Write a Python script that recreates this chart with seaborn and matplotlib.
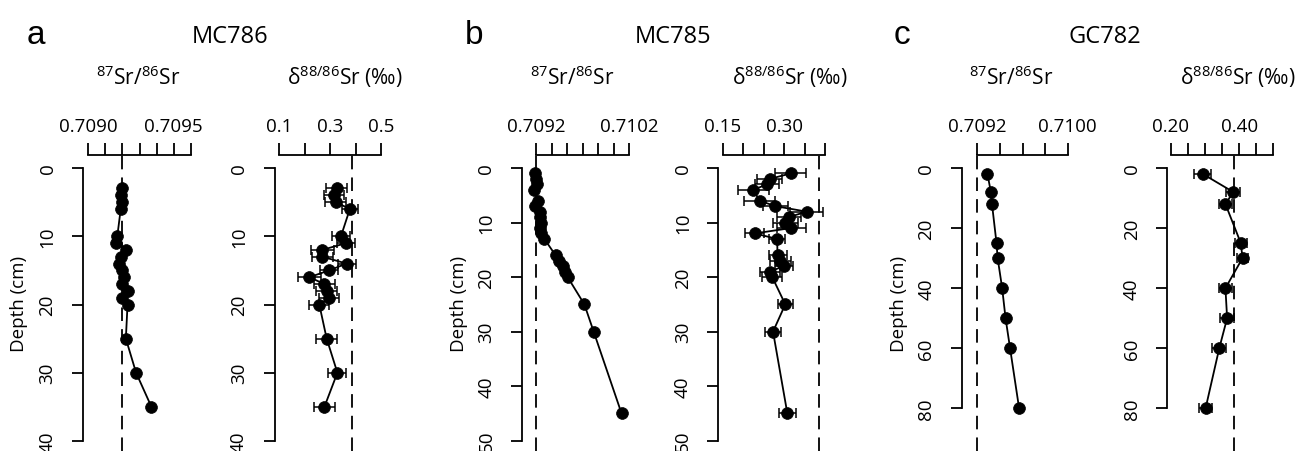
import matplotlib
matplotlib.use("Agg")
import matplotlib.pyplot as plt
import seaborn as sns
import numpy as np

# ---------------- data ----------------
# MC786
a_depth = [3, 4, 5, 6, 10, 11, 12, 13, 14, 15, 16, 17, 18, 19, 20, 25, 30, 35]
a_sr = [0.70920, 0.70919, 0.70920, 0.70919, 0.70917, 0.70916, 0.70922, 0.70919, 0.70918,
        0.70920, 0.70921, 0.70920, 0.70923, 0.70920, 0.70923, 0.70922, 0.70928, 0.70937]
a_d88 = [0.326, 0.316, 0.322, 0.378, 0.343, 0.363, 0.270, 0.270, 0.365, 0.297, 0.219,
         0.278, 0.287, 0.297, 0.258, 0.287, 0.329, 0.278]
a_err = [0.040, 0.040, 0.040, 0.030, 0.035, 0.035, 0.044, 0.040, 0.035, 0.035, 0.044,
         0.040, 0.040, 0.040, 0.040, 0.040, 0.035, 0.040]

# MC785
b_depth = [1, 2, 3, 4, 6, 7, 8, 9, 10, 11, 12, 13, 16, 17, 18, 19, 20, 25, 30, 45]
b_sr = [0.70919, 0.70920, 0.70921, 0.70918, 0.70922, 0.70919, 0.70924, 0.70924, 0.70925,
        0.70924, 0.70925, 0.70929, 0.70941, 0.70945, 0.70949, 0.70951, 0.70954, 0.70972,
        0.70982, 0.71012]
b_d88 = [0.316, 0.265, 0.258, 0.225, 0.240, 0.279, 0.355, 0.312, 0.303, 0.318, 0.228,
         0.283, 0.284, 0.291, 0.299, 0.265, 0.271, 0.303, 0.273, 0.308]
b_err = [0.038, 0.030, 0.030, 0.038, 0.038, 0.030, 0.040, 0.030, 0.030, 0.035, 0.023,
         0.020, 0.022, 0.025, 0.022, 0.025, 0.025, 0.018, 0.020, 0.020]

# GC782
c_depth = [2, 8, 12, 25, 30, 40, 50, 60, 80]
c_sr = [0.70929, 0.70932, 0.70933, 0.70937, 0.70938, 0.70942, 0.70945, 0.70949, 0.70957]
c_d88 = [0.294, 0.383, 0.360, 0.405, 0.410, 0.360, 0.365, 0.342, 0.302]
c_err = [0.025, 0.020, 0.020, 0.017, 0.017, 0.020, 0.020, 0.020, 0.020]

# seawater reference values (dashed lines)
sr_seawater = 0.7092
d88_seawater = 0.386

# tick values / labels
a_sr_ticks = [0.7090, 0.7091, 0.7092, 0.7093, 0.7094, 0.7095, 0.7096]
a_sr_labels = ["0.7090", "", "", "", "", "0.7095", ""]
a_d_ticks = [0.1, 0.2, 0.3, 0.4, 0.5]
a_d_labels = ["0.1", "", "0.3", "", "0.5"]
b_sr_ticks = list(np.linspace(0.7092, 0.7102, 7))
b_sr_labels = ["0.7092", "", "", "", "", "", "0.7102"]
b_d_ticks = [0.15, 0.20, 0.25, 0.30, 0.35, 0.40]
b_d_labels = ["0.15", "", "", "0.30", "", ""]
c_sr_ticks = [0.7092, 0.7094, 0.7096, 0.7098, 0.7100]
c_sr_labels = ["0.7092", "", "", "", "0.7100"]
c_d_ticks = [0.20, 0.25, 0.30, 0.35, 0.40, 0.45, 0.50]
c_d_labels = ["0.20", "", "", "", "0.40", "", ""]

a_yticks = [0, 10, 20, 30, 40]
b_yticks = [0, 10, 20, 30, 40, 50]
c_yticks = [0, 20, 40, 60, 80]

cores = ["MC786", "MC785", "GC782"]
letters = ["a", "b", "c"]

# ---------------- style ----------------
sns.set_style("ticks", rc={"axes.edgecolor": "black", "xtick.color": "black",
                           "ytick.color": "black", "text.color": "black"})
plt.rcParams["font.family"] = ["Open Sans", "DejaVu Sans"]
plt.rcParams["mathtext.fontset"] = "custom"
plt.rcParams["mathtext.rm"] = "Open Sans"
plt.rcParams["mathtext.it"] = "Open Sans:italic"
plt.rcParams["mathtext.bf"] = "Open Sans:bold"

W, H = 1300, 452
fig = plt.figure(figsize=(W / 100, H / 100), dpi=100)

AX_TOP, AX_BOT, DEPTH0 = 156, 452, 169
LW = 1.3

sr_title = r"$\mathregular{^{87}}$Sr/$\mathregular{^{86}}$Sr"
d_title = r"δ$\mathregular{^{88/86}}$Sr (‰)"


def make_panel(spine_px, p0, p1, ticks, labels, ypx_per_unit, x, depth, err, sw, yticks,
               title, title_x):
    right_px = p1 + 4
    ax = fig.add_axes([spine_px / W, 1 - AX_BOT / H, (right_px - spine_px) / W, (AX_BOT - AX_TOP) / H])
    k = (ticks[-1] - ticks[0]) / (p1 - p0)
    ax.set_xlim(ticks[0] - (p0 - spine_px) * k, ticks[-1] + 4 * k)
    ax.set_ylim((AX_BOT - DEPTH0) / ypx_per_unit, -(DEPTH0 - AX_TOP) / ypx_per_unit)

    ax.axvline(sw, color="black", lw=LW, ls=(0, (7.5, 4.5)), zorder=1)
    if err is not None:
        ax.errorbar(x, depth, xerr=err, fmt="none", ecolor="black", elinewidth=1.1,
                    capsize=3.8, capthick=1.1, zorder=2)
    sns.lineplot(x=x, y=depth, sort=False, estimator=None, errorbar=None, ax=ax,
                 color="black", lw=LW, marker="o", markersize=8.5,
                 markeredgecolor="black", markeredgewidth=0.5, zorder=3)
    ax.set_xlabel("")
    ax.set_ylabel("")

    ax.xaxis.tick_top()
    ax.set_xticks(ticks)
    ax.set_xticklabels(labels)
    ax.set_yticks(yticks)
    ax.set_yticklabels([str(t) for t in yticks], rotation=90, va="center")
    ax.tick_params(axis="x", direction="out", length=8.5, width=LW, pad=6, labelsize=13.5,
                   top=True, bottom=False, labeltop=True, labelbottom=False)
    ax.tick_params(axis="y", direction="out", length=8, width=LW, pad=11, labelsize=13.5)
    for s in ["right", "bottom"]:
        ax.spines[s].set_visible(False)
    ax.spines["top"].set_linewidth(LW)
    ax.spines["left"].set_linewidth(LW)
    ax.spines["top"].set_bounds(ticks[0], ticks[-1])
    ax.spines["left"].set_bounds(yticks[0], yticks[-1])
    ax.patch.set_alpha(0)

    fig.text(title_x / W, 1 - 85 / H, title, fontsize=15, ha="center", va="baseline")
    return ax


a_ppu = (442 - DEPTH0) / 40
b_ppu = (441.7 - DEPTH0) / 50
c_ppu = (409.3 - DEPTH0) / 80

make_panel(83, 88.3, 190.7, a_sr_ticks, a_sr_labels, a_ppu, a_sr, a_depth, None, sr_seawater,
           a_yticks, sr_title, 138)
make_panel(274.5, 279, 381, a_d_ticks, a_d_labels, a_ppu, a_d88, a_depth, a_err, d88_seawater,
           a_yticks, d_title, 345)
make_panel(521.7, 536, 629, b_sr_ticks, b_sr_labels, b_ppu, b_sr, b_depth, None, sr_seawater,
           b_yticks, sr_title, 572)
make_panel(718.3, 722.7, 825, b_d_ticks, b_d_labels, b_ppu, b_d88, b_depth, b_err, d88_seawater,
           b_yticks, d_title, 790)
make_panel(961.7, 977.3, 1067.7, c_sr_ticks, c_sr_labels, c_ppu, c_sr, c_depth, None, sr_seawater,
           c_yticks, sr_title, 1011)
make_panel(1167.3, 1170.7, 1273.3, c_d_ticks, c_d_labels, c_ppu, c_d88, c_depth, c_err, d88_seawater,
           c_yticks, d_title, 1238)

# panel letters, core names, depth labels
letter_x = [36, 474, 902]
core_x = [230, 673, 1105]
depth_x = [19, 459, 899]
for i in range(3):
    fig.text(letter_x[i] / W, 1 - 44 / H, letters[i], fontsize=24, family="Liberation Sans",
             ha="center", va="baseline")
    fig.text(core_x[i] / W, 1 - 43 / H, cores[i], fontsize=17, ha="center", va="baseline")
    fig.text(depth_x[i] / W, 1 - 304 / H, "Depth (cm)", fontsize=13.5, rotation=90,
             ha="center", va="center")

fig.savefig("out.png", dpi=100)
